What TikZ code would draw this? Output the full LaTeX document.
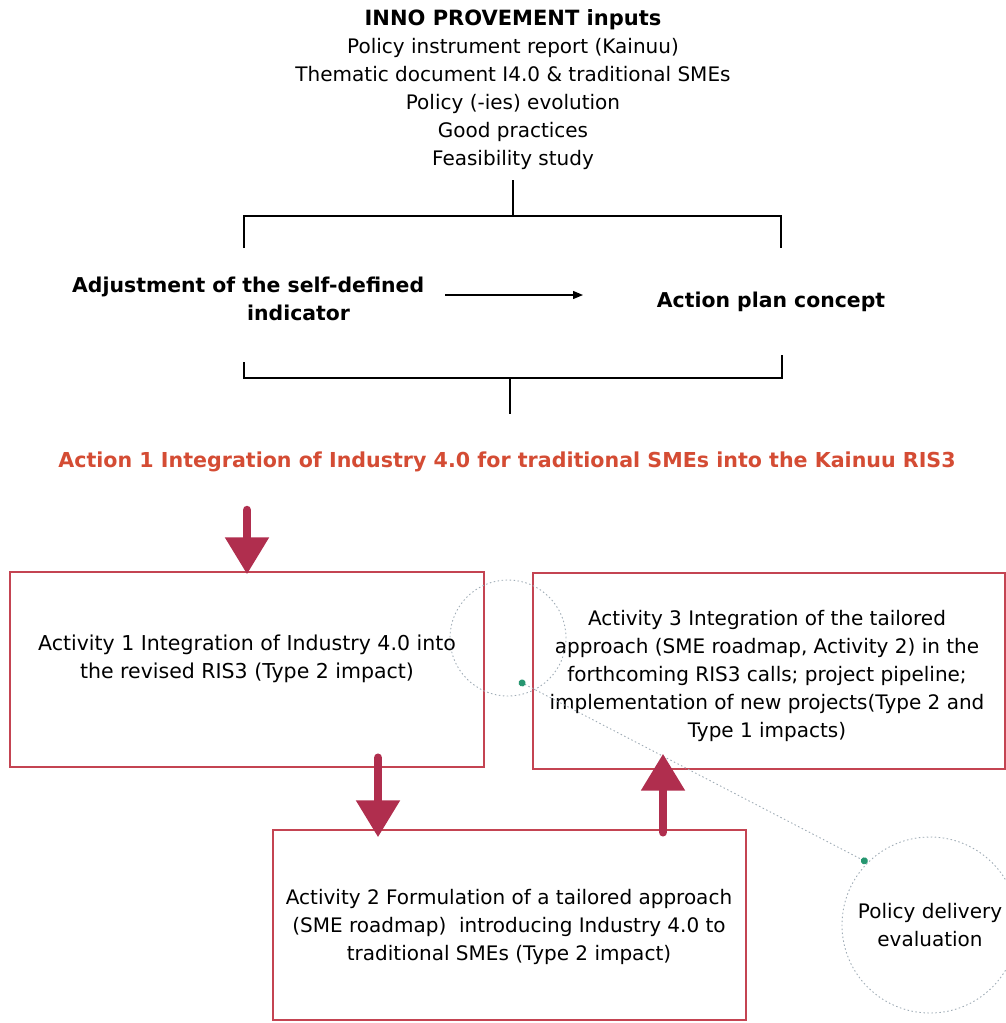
\documentclass[tikz,border=0pt]{standalone}
\usepackage{fontspec}
\setmainfont{DejaVu Sans}
\usetikzlibrary{arrows.meta,calc}
\definecolor{arrowred}{RGB}{176,46,78}
\definecolor{boxred}{RGB}{196,68,82}
\definecolor{titlered}{RGB}{212,76,52}
\definecolor{dotgreen}{RGB}{38,150,112}
\definecolor{faintgrey}{RGB}{160,172,182}
\begin{document}
\begin{tikzpicture}[x=1pt,y=-1pt,
  txt/.style={font=\fontsize{20}{28}\selectfont, align=center, inner sep=0pt},
  btxt/.style={font=\fontsize{20.4}{28}\selectfont\bfseries, align=center, inner sep=0pt},
  bline/.style={draw=black, line width=1.3pt},
  actbox/.style={draw=boxred, line width=1.4pt, rectangle, inner sep=0pt},
  bigarrow/.style={draw=arrowred, line width=8.5pt, line cap=round,
    -{Triangle[width=42pt,length=37pt,fill=arrowred]}},
  faintcirc/.style={circle, draw=faintgrey, line width=0.9pt, dash pattern=on 1.5pt off 2.5pt, inner sep=0pt},
  faintlink/.style={draw=faintgrey, line width=0.9pt, dash pattern=on 1.5pt off 2.5pt,
    {Circle[length=7pt,fill=dotgreen,color=dotgreen]}-{Circle[length=7pt,fill=dotgreen,color=dotgreen]}},
]
\useasboundingbox (0,0) rectangle (1005,1023);

% ---- inputs text ----
\node[txt, outer ysep=10pt] (inputs) at (513,90)
  {{\fontsize{21}{28}\selectfont\bfseries INNO PROVEMENT inputs}\\
   Policy instrument report (Kainuu)\\
   Thematic document I4.0 \& traditional SMEs\\
   Policy (-ies) evolution\\
   Good practices\\
   Feasibility study};

% ---- top bracket ----
\coordinate (tj) at (513,216);
\coordinate (tl) at (244,216);
\coordinate (tr) at (781,216);
\coordinate (tlb) at (244,248);
\coordinate (trb) at (781,248);
\draw[bline] (inputs.south) -- (tj);
\draw[bline] (tlb) -- (tl) -- (tr) -- (trb);

% ---- middle row ----
\node[btxt, align=left, anchor=west] (adj) at (72,299)
  {Adjustment of the self-defined\\\hspace*{175pt}indicator};
\node[btxt] (act) at (771,302) {Action plan concept};
\coordinate (arrS) at (445,295);
\coordinate (arrE) at (583,295);
\draw[line width=1.3pt, -{Triangle[width=8pt,length=10pt]}] (arrS) -- (arrE);

% ---- bottom bracket ----
\coordinate (bl) at (244,378);
\coordinate (br) at (782,378);
\coordinate (blt) at (244,362);
\coordinate (brt) at (782,355);
\coordinate (bj) at (510,378);
\coordinate (bjb) at (510,414);
\draw[bline] (blt) -- (bl) -- (br) -- (brt);
\draw[bline] (bj) -- (bjb);

% ---- action title ----
\node[btxt, font=\fontsize{20.6}{28}\selectfont\bfseries, text=titlered] (action) at (507,462)
  {Action 1 Integration of Industry 4.0 for traditional SMEs into the Kainuu RIS3};

% ---- activity boxes ----
\node[actbox, minimum width=474pt, minimum height=195pt] (box1) at (247,669.5) {};
\node[txt, font=\fontsize{20.5}{28}\selectfont] (t1) at (247,658.5)
  {Activity 1 Integration of Industry 4.0 into\\the revised RIS3 (Type 2 impact)};

\node[actbox, minimum width=472pt, minimum height=196pt] (box3) at (769,671) {};
\node[txt] (t3) at (767,675.5)
  {Activity 3 Integration of the tailored\\
   approach (SME roadmap, Activity 2) in the\\
   forthcoming RIS3 calls; project pipeline;\\
   implementation of new projects(Type 2 and\\
   Type 1 impacts)};

\node[actbox, minimum width=473pt, minimum height=190pt] (box2) at (509.5,925) {};
\node[txt] (t2) at (509,926.5)
  {Activity 2 Formulation of a tailored approach\\
   (SME roadmap)\ \ introducing Industry 4.0 to\\
   traditional SMEs (Type 2 impact)};

% ---- circles ----
\node[faintcirc, minimum size=116pt] (c1) at (508,638) {};
\node[faintcirc, minimum size=176pt, txt] (c2) at (930,925) {Policy delivery\\evaluation};
\draw[faintlink, shorten <=-3pt] ($(c1.center)!0.8!(c1.-73)$) -- (c2.135);

% ---- big arrows ----
\coordinate (a1top) at (247,510);
\coordinate (ax2) at (378,0);
\coordinate (ax3) at (663,0);
\draw[bigarrow, shorten >=-3pt] (a1top) -- (box1.north);
\draw[bigarrow, shorten <=-10pt, shorten >=-8pt] (box1.south -| ax2) -- (box2.north -| ax2);
\draw[bigarrow, shorten <=-3pt, shorten >=-16pt] (box2.north -| ax3) -- (box3.south -| ax3);
\end{tikzpicture}
\end{document}
